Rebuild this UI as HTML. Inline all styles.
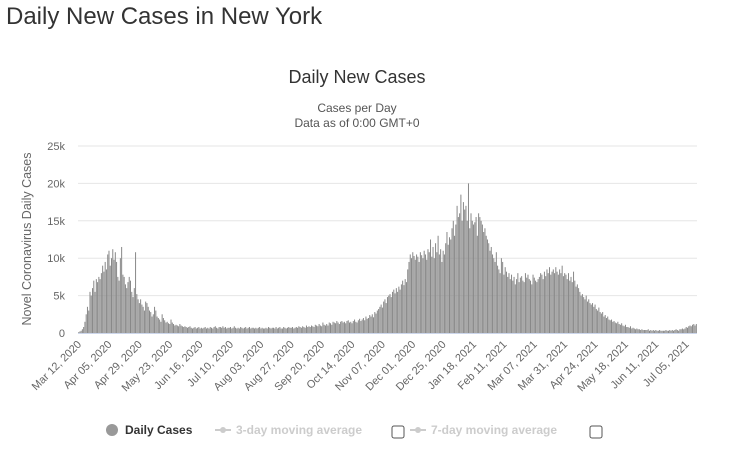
<!DOCTYPE html>
<html><head><meta charset="utf-8"><style>
body{margin:0;background:#fff;font-family:"Liberation Sans",sans-serif;}
#wrap{position:relative;width:737px;height:461px;overflow:hidden}
h1{position:absolute;left:6px;top:3px;margin:0;font-weight:normal;font-size:24px;color:#333}
</style></head><body>
<div id="wrap">
<h1>Daily New Cases in New York</h1>
<svg id="c" width="737" height="461" style="position:absolute;left:0;top:0"></svg>
</div>
<script>
const startDate = "2020-03-12";
const yTicks = [0, 5000, 10000, 15000, 20000, 25000];
const yTickLabels = ["0", "5k", "10k", "15k", "20k", "25k"];
const xTickLabels = ["Mar 12, 2020","Apr 05, 2020","Apr 29, 2020","May 23, 2020","Jun 16, 2020","Jul 10, 2020","Aug 03, 2020","Aug 27, 2020","Sep 20, 2020","Oct 14, 2020","Nov 07, 2020","Dec 01, 2020","Dec 25, 2020","Jan 18, 2021","Feb 11, 2021","Mar 07, 2021","Mar 31, 2021","Apr 24, 2021","May 18, 2021","Jun 11, 2021","Jul 05, 2021"];
// daily cases in hundreds
const dailyCasesHundreds = [
1,2,3,5,8,15,25, 35,30,55,50,60,70,55, 72,68,75,72,80,90,82, 95,85,105,110,90,100,112,
98,108,95,75,70,100,115, 78,75,65,60,68,75,70, 55,48,60,108,52,45,40, 45,38,35,30,42,40,35,
30,28,22,25,35,30,22, 20,18,15,25,20,17,14, 15,13,12,18,14,12,10, 11,10,9,12,10,9,8,
9,8,7,8,9,7,6, 7,8,6,7,8,6,7, 6,7,8,6,7,6,8, 7,6,8,9,7,6,8, 8,7,9,7,8,6,7, 7,8,6,7,9,7,6,
7,6,8,7,6,7,8, 6,7,8,6,7,7,6, 7,6,7,8,6,7,6, 6,7,6,8,7,6,7, 7,6,8,6,7,8,6, 6,8,7,6,7,8,7,
7,8,6,7,8,7,9, 8,7,9,8,7,10,8, 9,8,10,9,8,11,10, 9,12,10,9,14,11,10, 12,10,14,13,11,15,14,
13,16,14,12,15,16,14, 15,13,16,17,14,15,13, 16,18,15,14,17,19,16, 18,20,17,22,19,20,24,
22,25,21,28,26,30,32, 35,38,34,42,45,40,48, 50,52,48,55,58,53,60, 55,62,58,65,70,64,72,
68,85,95,105,100,108,103, 98,105,102,95,108,104,100, 110,105,98,112,108,125,102,
115,100,120,108,130,105,112, 95,110,105,120,135,118,128, 125,140,150,130,145,170,155,
160,185,150,175,165,170,150, 200,140,160,150,145,148,155, 130,160,155,150,145,135,140,
130,125,120,110,115,105,100, 95,108,90,85,80,100,95, 78,88,82,75,80,72,78, 70,75,65,72,80,68,74,
76,70,68,80,74,78,72, 70,65,78,74,70,68,72, 75,80,78,72,82,76,85, 80,88,78,82,85,80,88,
82,78,85,80,90,76,80, 78,72,80,70,75,68,82, 70,62,65,60,55,50,52, 48,45,50,42,45,40,38,
40,35,38,32,30,34,28, 26,28,22,24,20,22,18, 17,18,15,16,14,13,15, 12,11,13,10,9,11,8,
8,7,9,6,7,6,5, 6,5,5,4,5,4,4, 4,4,5,3,4,3,4, 3,4,3,3,4,3,3, 3,3,4,3,3,4,3, 4,3,4,5,4,3,5,
5,6,5,6,8,7,9, 10,9,11,12,10,12];

const NS="http://www.w3.org/2000/svg";
const svg=document.getElementById('c');
const X0=78,X1=697,Y0=333,Ytop=146,YMAX=25000;
const n=dailyCasesHundreds.length;
const step=(X1-X0)/n;
const xs=i=>X0+i*step;
const ys=v=>Y0-(v/YMAX)*(Y0-Ytop);
function mk(tag,attrs,txt){const e=document.createElementNS(NS,tag);for(const k in attrs)e.setAttribute(k,attrs[k]);if(txt!=null)e.textContent=txt;svg.appendChild(e);return e;}

let t=mk('text',{x:357,y:83,'text-anchor':'middle','font-size':18,fill:'#333'},'Daily New Cases');


t=mk('text',{x:357,y:112,'text-anchor':'middle','font-size':12,fill:'#555'},'Cases per Day');


t=mk('text',{x:357,y:127,'text-anchor':'middle','font-size':12,fill:'#555'},'Data as of 0:00 GMT+0');


t=mk('text',{x:0,y:0,'text-anchor':'middle','font-size':12.5,fill:'#666',transform:'translate(31,239) rotate(-90)'},'Novel Coronavirus Daily Cases');



yTicks.forEach((v,i)=>{
  const y=ys(v);
  if(i>0){const g=mk('line',{x1:X0,x2:X1,y1:y,y2:y,stroke:'#e6e6e6','stroke-width':1});
  
  }
  const l=mk('text',{x:65,y:y+4,'text-anchor':'end','font-size':11,fill:'#666'},yTickLabels[i]);
  
  
});
const base=mk('line',{x1:X0,x2:X1,y1:Y0+0.5,y2:Y0+0.5,stroke:'#ccd6eb','stroke-width':1});



dailyCasesHundreds.forEach((v,i)=>{
  const val=v*100,y=ys(val);
  const r=mk('rect',{x:xs(i)+0.1,y:y,width:1,height:Y0-y,fill:'#888'});
  
  
});

xTickLabels.forEach((lab,k)=>{
  const x=xs(k*24)+4;
  const l=mk('text',{x:0,y:0,'text-anchor':'end','font-size':11,fill:'#666',transform:`translate(${x},${Y0+12}) rotate(-45)`},lab);
  
  
});

// legend
let c=mk('circle',{cx:112,cy:430,r:6,fill:'#999'});


t=mk('text',{x:125,y:434,'font-size':12,'font-weight':'bold',fill:'#333'},'Daily Cases');


[[215,'3-day moving average',392],[410,'7-day moving average',590]].forEach(([x,lab,cb])=>{
  const ln=mk('line',{x1:x,x2:x+16,y1:430,y2:430,stroke:'#ccc','stroke-width':2});
  
  
  const d=mk('circle',{cx:x+8,cy:430,r:3,fill:'#ccc'});
  
  
  const tt=mk('text',{x:x+21,y:434,'font-size':12,'font-weight':'bold',fill:'#ccc'},lab);
  
  
  const b=mk('rect',{x:cb,y:426,width:12,height:12,rx:2,fill:'#fff',stroke:'#555','stroke-width':1});
  
  
});
</script>
</body></html>
